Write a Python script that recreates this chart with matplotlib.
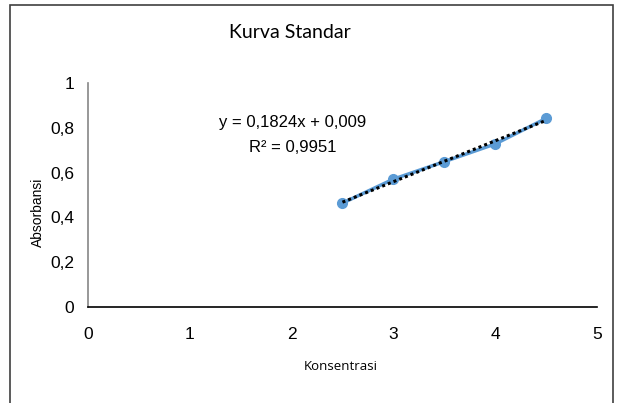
import numpy as np
import matplotlib
matplotlib.use("Agg")
import matplotlib.pyplot as plt
from matplotlib.patches import Rectangle

# data
konsentrasi = [2.5, 3.0, 3.5, 4.0, 4.5]
absorbansi = [0.464, 0.571, 0.649, 0.728, 0.842]
x_ticks = [0, 1, 2, 3, 4, 5]
y_ticks = [0, 0.2, 0.4, 0.6, 0.8, 1.0]
y_tick_labels = ["0", "0,2", "0,4", "0,6", "0,8", "1"]

blue = "#5B9BD5"
sans = "Liberation Sans"

fig = plt.figure(figsize=(6.19, 4.03), dpi=100)
ax = fig.add_axes([0.142, 0.238, 0.8225, 0.556])

# chart border
fig.patches.append(Rectangle((10 / 619, -0.05), 603 / 619, 1.05 - 5 / 403,
                             transform=fig.transFigure, fill=False,
                             edgecolor="#404040", linewidth=1.2))

ax.plot(konsentrasi, absorbansi, color=blue, linewidth=2.5, marker="o",
        markersize=7, zorder=3)

# linear trendline
m, c = np.polyfit(konsentrasi, absorbansi, 1)
xs = np.array([konsentrasi[0], konsentrasi[-1]])
ax.plot(xs, m * xs + c, color="black", linestyle=(0, (1, 1)), linewidth=2.2, zorder=4)

ax.text(2.01, 0.768, "y = 0,1824x + 0,009\nR² = 0,9951", ha="center", va="center",
        fontsize=12, family=sans, linespacing=1.85)

ax.set_xlim(0, 5)
ax.set_ylim(0, 1)
ax.set_xticks(x_ticks)
ax.set_xticklabels([str(t) for t in x_ticks], family=sans, fontsize=12.5)
ax.set_yticks(y_ticks)
ax.set_yticklabels(y_tick_labels, family=sans, fontsize=12.5)
ax.tick_params(length=0)
ax.tick_params(axis="x", pad=14)
ax.tick_params(axis="y", pad=10)

for s in ["top", "right"]:
    ax.spines[s].set_visible(False)
ax.spines["left"].set_color("#868686")
ax.spines["bottom"].set_color("black")
ax.spines["left"].set_linewidth(1.2)
ax.spines["bottom"].set_linewidth(1.2)

fig.text(290 / 619, 1 - 33 / 403, "Kurva Standar", ha="center", va="center",
         fontsize=14, family="Lato")
fig.text(341 / 619, 1 - 366 / 403, "Konsentrasi", ha="center", va="center",
         fontsize=9.5, family="Open Sans")
fig.text(38 / 619, 1 - 212 / 403, "Absorbansi", ha="center", va="center",
         fontsize=10, family=sans, rotation=90)

fig.savefig("out.png", dpi=100)
